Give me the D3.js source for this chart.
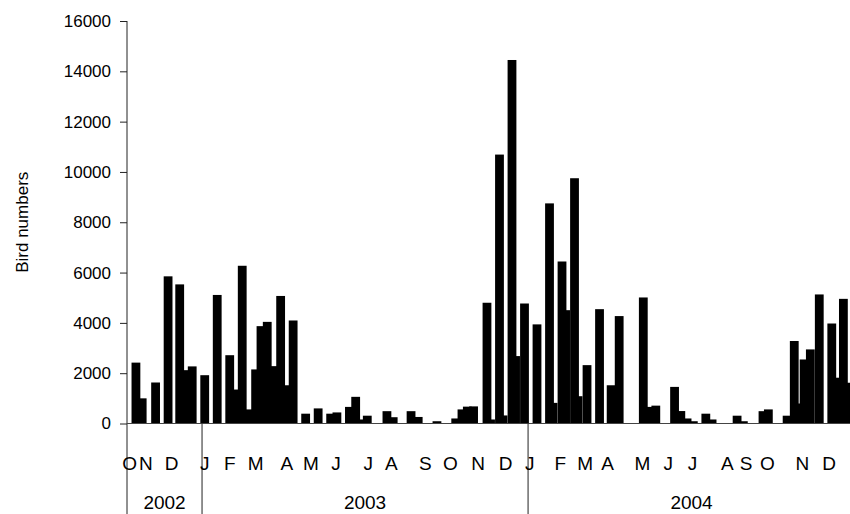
<!DOCTYPE html>
<html>
<head>
<meta charset="utf-8">
<script src="https://cdn.jsdelivr.net/npm/d3@7"></script>
<style>
  body { margin: 0; background: #fff; }
  svg { display: block; font-family: "Liberation Sans", Arial, sans-serif; }
</style>
</head>
<body>
<svg id="chart" width="850" height="514"></svg>
<script>
// Survey days, counted from 1 Oct 2002
const sampleDays = [18, 25, 40, 54, 67, 74, 81, 95, 109, 123,
    130, 137, 144, 152, 158, 165, 173, 180, 186, 194,
    208, 222, 236, 243, 257, 264, 270, 277, 299, 306,
    326, 334, 355, 376, 383, 389, 396, 411, 415, 425,
    429, 439, 443, 453, 467, 481, 485, 495, 499, 509,
    513, 523, 537, 550, 559, 586, 591, 600, 621, 628,
    635, 642, 656, 663, 691, 698, 720, 726, 747, 755,
    759, 766, 773, 783, 797, 801, 810, 817];

// Bird numbers counted on each survey
const birdCounts = [2420, 1000, 1630, 5850, 5530, 2120, 2270, 1920, 5110, 2715,
    1350, 6270, 560, 2150, 3870, 4040, 2280, 5070, 1520, 4095,
    390, 600, 390, 440, 660, 1060, 160, 310, 490, 250,
    490, 260, 90, 200, 560, 670, 680, 4800, 160, 10690,
    320, 14450, 2680, 4770, 3940, 8750, 820, 6440, 4505, 9750,
    1085, 2320, 4545, 1520, 4270, 5010, 660, 710, 1455, 495,
    200, 90, 390, 160, 310, 90, 490, 560, 310, 3280,
    795, 2545, 2945, 5130, 3975, 1820, 4955, 1620];

// Month initials under the axis and the day each one sits on
const monthLabels = ["O", "N", "D", "J", "F", "M", "A", "M", "J", "J", "A", "S", "O", "N", "D",
    "J", "F", "M", "A", "M", "J", "J", "A", "S", "O", "N", "D"];
const monthLabelDays = [11, 29, 58, 95, 123, 152, 187, 214, 242, 278, 304, 342, 370, 401, 432,
    459, 493, 521, 546, 585, 614, 641, 680, 701, 725, 764, 794];

const yearLabels = ["2002", "2003", "2004"];
const yearStartDays = [8, 92, 457];
const yearEndDays = [92, 457, 823];

const yTicks = [0, 2000, 4000, 6000, 8000, 10000, 12000, 14000, 16000];

const svg = d3.select("#chart"),
    plotLeft = 127,
    plotRight = 855,
    plotTop = 21,
    plotBottom = 423.5,
    barWidth = 8.8;

const x = d3.scaleLinear().domain([8, 823]).range([plotLeft, plotRight]);
const y = d3.scaleLinear().domain([0, 16000]).range([plotBottom, plotTop]);

const data = sampleDays.map((d, i) => ({ day: d, count: birdCounts[i] }));

// Bars
svg.append("g")
    .selectAll("rect")
    .data(data)
    .enter().append("rect")
    .attr("x", d => x(d.day) - barWidth / 2)
    .attr("width", barWidth)
    .attr("y", d => y(d.count))
    .attr("height", d => y(0) - y(d.count))
    .style("fill", "#000");

// Y axis
const yAxis = svg.append("g")
    .attr("transform", `translate(${plotLeft},0)`)
    .call(d3.axisLeft(y).tickValues(yTicks).tickSize(7).tickPadding(9).tickFormat(d3.format("d")));

yAxis.select(".domain").remove();
yAxis.selectAll("line").attr("stroke", "#222");
yAxis.selectAll("text")
    .style("font-size", "17px")
    .style("font-family", "Liberation Sans, Arial, sans-serif")
    .attr("fill", "#000");

// Y axis line runs down through the label area
svg.append("line")
    .attr("x1", plotLeft).attr("x2", plotLeft)
    .attr("y1", plotTop).attr("y2", 514)
    .attr("stroke", "#222");

// X axis line
svg.append("line")
    .attr("x1", plotLeft).attr("x2", plotRight)
    .attr("y1", plotBottom).attr("y2", plotBottom)
    .attr("stroke", "#444");

// Year separators
svg.selectAll(".sep")
    .data(yearStartDays.slice(1))
    .enter().append("line")
    .attr("class", "sep")
    .attr("x1", d => x(d)).attr("x2", d => x(d))
    .attr("y1", plotBottom).attr("y2", 514)
    .attr("stroke", "#222");

// Month labels
svg.selectAll(".month")
    .data(monthLabels)
    .enter().append("text")
    .attr("class", "month")
    .attr("x", (d, i) => x(monthLabelDays[i]))
    .attr("y", 470)
    .attr("text-anchor", "middle")
    .style("font-size", "19px")
    .text(d => d);

// Year labels, centred on their span
svg.selectAll(".year")
    .data(yearLabels)
    .enter().append("text")
    .attr("class", "year")
    .attr("x", (d, i) => (x(yearStartDays[i]) + x(yearEndDays[i])) / 2)
    .attr("y", 509)
    .attr("text-anchor", "middle")
    .style("font-size", "19px")
    .text(d => d);

// Axis title
svg.append("text")
    .attr("transform", `translate(28,${(plotTop + plotBottom) / 2}) rotate(-90)`)
    .attr("text-anchor", "middle")
    .style("font-size", "17px")
    .text("Bird numbers");
</script>
</body>
</html>
